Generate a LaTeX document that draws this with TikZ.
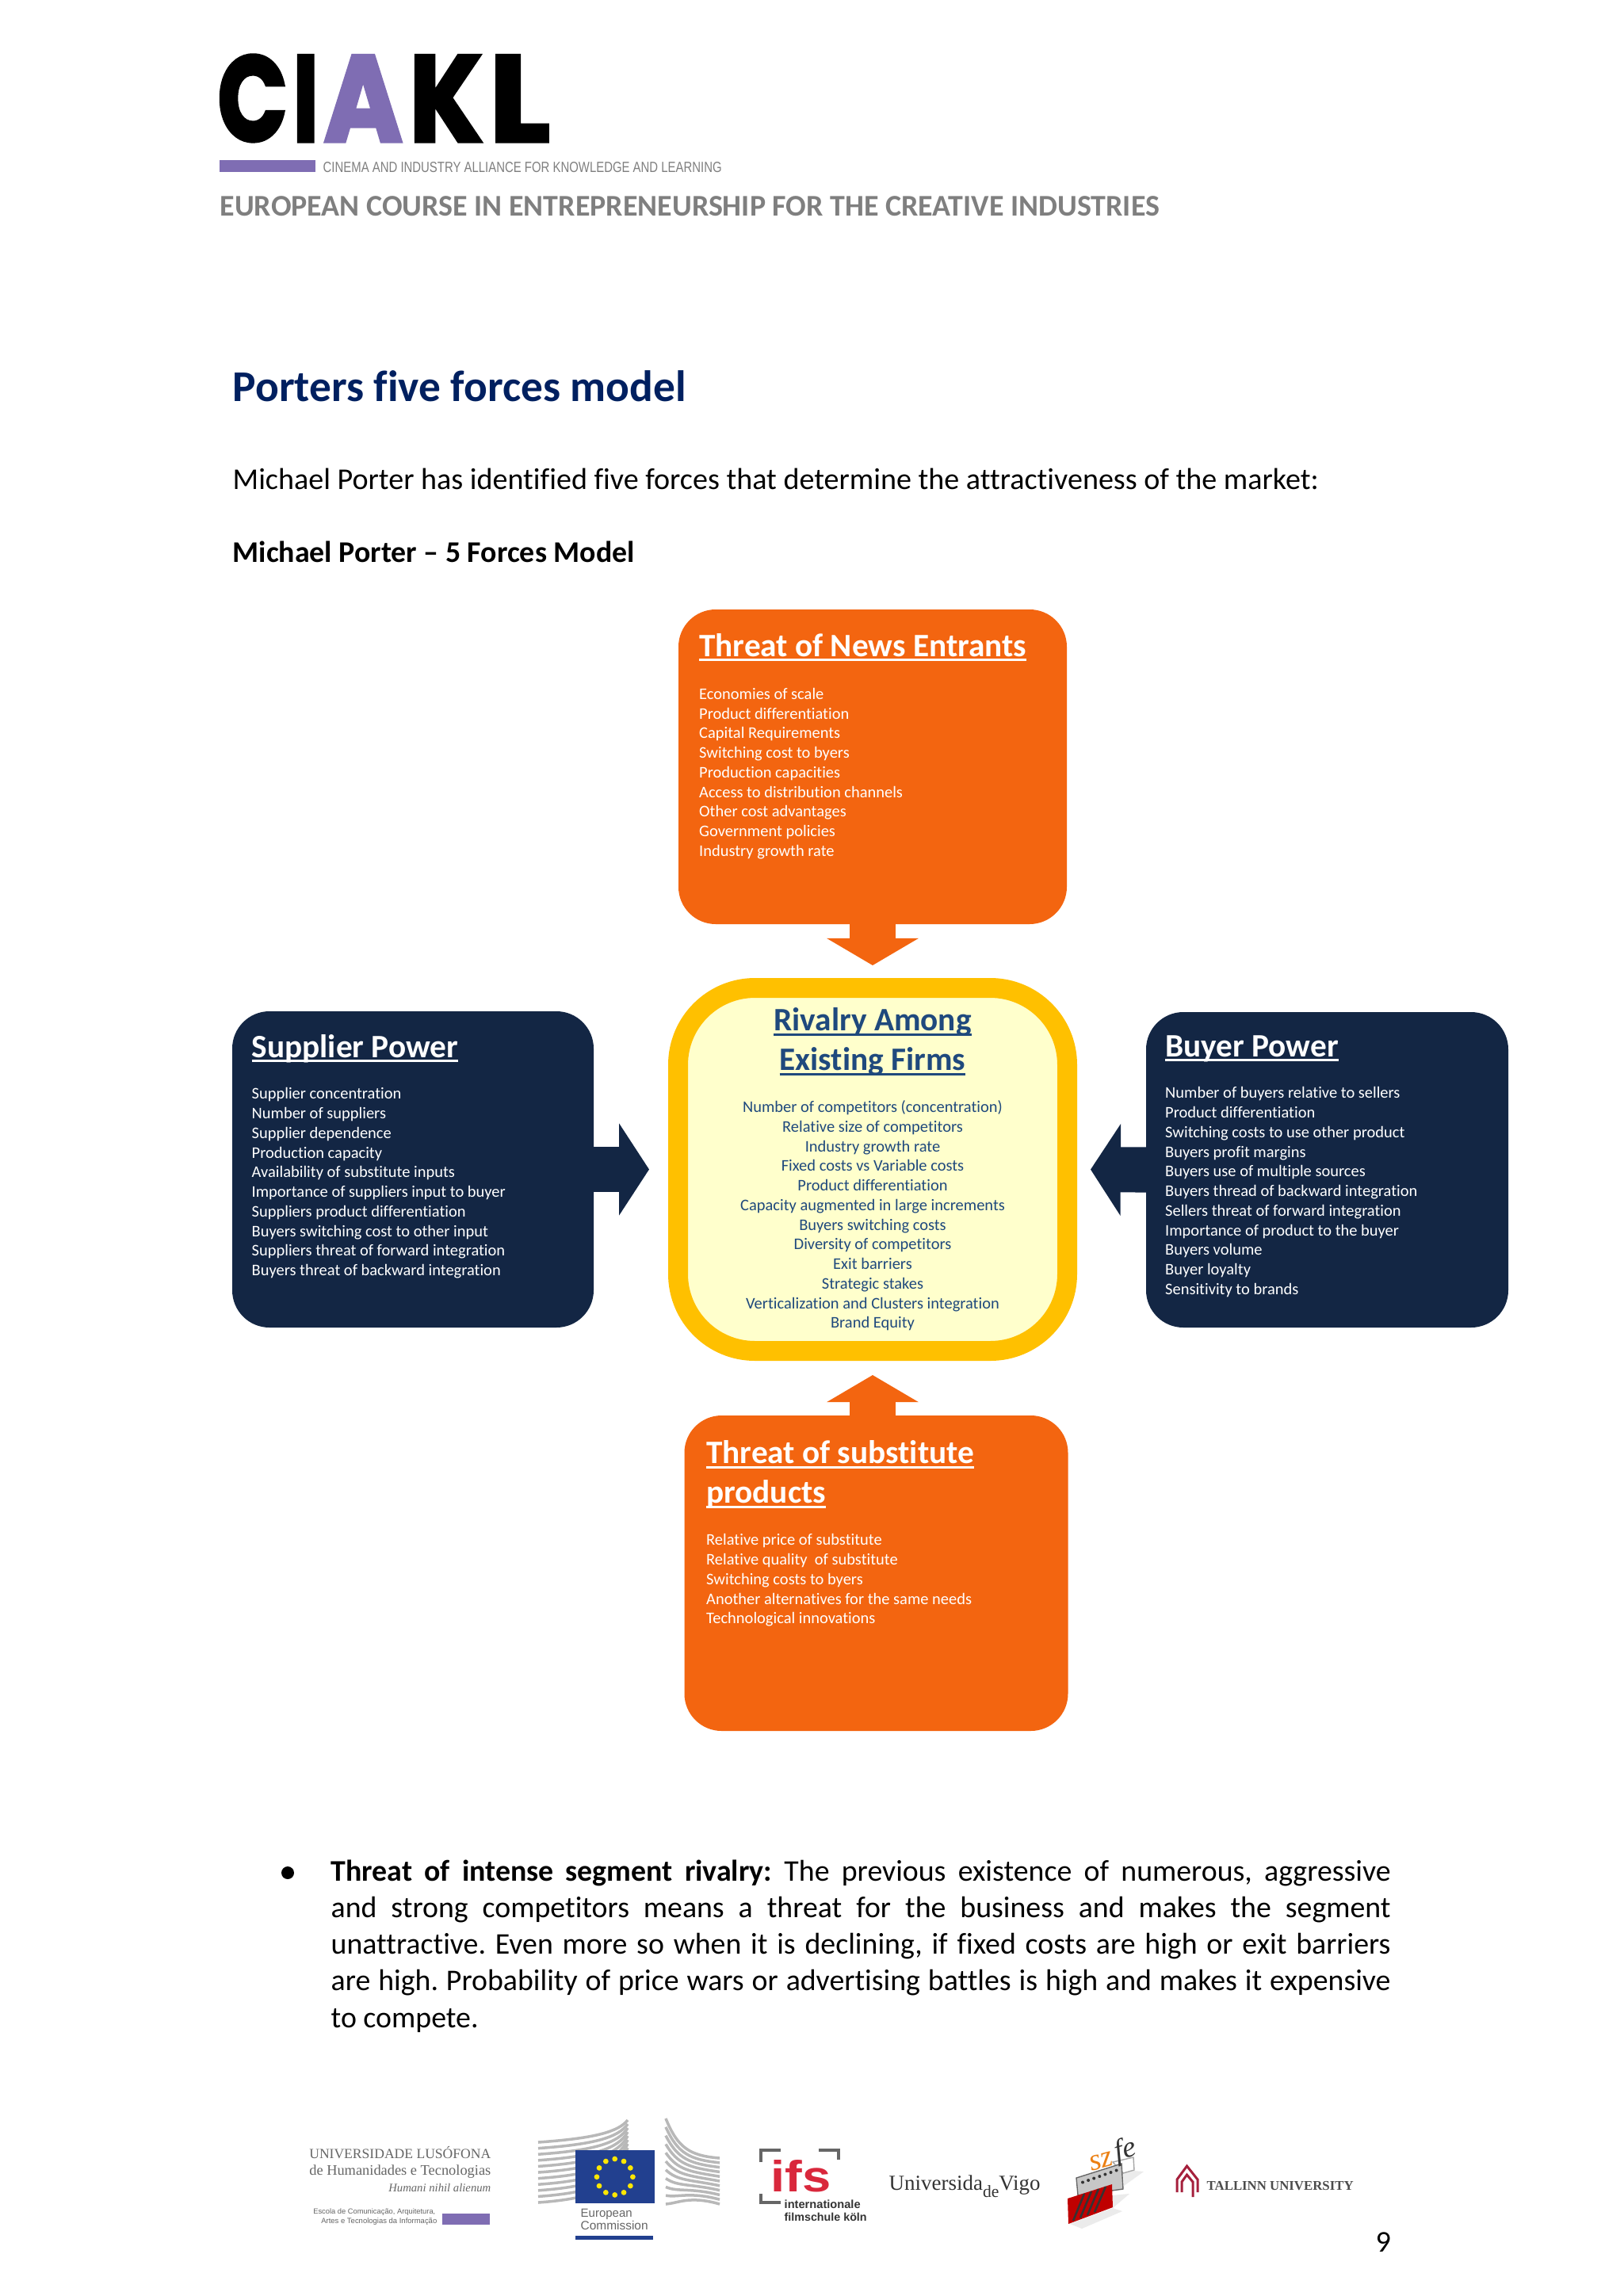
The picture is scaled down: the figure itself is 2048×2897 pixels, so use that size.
\documentclass[tikz,border=0pt]{standalone}
\usepackage{fontspec}
\usepackage{graphicx}
\usetikzlibrary{arrows.meta}
\setmainfont{Carlito}[Ligatures=NoCommon]
\newfontfamily\logofont{Poppins}[BoldFeatures={FakeBold=3}]
\newfontfamily\serifont{Liberation Serif}
\newfontfamily\plainsans{Liberation Sans}
\newlength\pxu
\setlength\pxu{0.29066pt}
\definecolor{forceorange}{HTML}{F36510}
\definecolor{forcenavy}{HTML}{132644}
\definecolor{ringyellow}{HTML}{FFC000}
\definecolor{ringfill}{HTML}{FFFFCC}
\definecolor{ringtext}{HTML}{1F497D}
\definecolor{logopurple}{HTML}{7F6DB3}
\definecolor{pagegrey}{HTML}{7F7F7F}
\definecolor{titleblue}{HTML}{002060}
\definecolor{eublue}{HTML}{22408F}
\definecolor{ifsred}{HTML}{D9283C}
\definecolor{tallinnred}{HTML}{A5203C}
\newcommand{\ultitle}[1]{\setbox0\hbox{#1}\rlap{\rule[-1.8pt]{\wd0}{0.85pt}}\box0}
\newcommand{\fitw}[2]{\resizebox{#1\pxu}{!}{#2}}
\tikzset{
	forcebox/.style={rectangle,rounded corners=47\pxu,inner sep=0pt},
	listtext/.style={anchor=north west,inner sep=0pt,align=left,font=\fontsize{5.95}{7.19}\selectfont},
	headtext/.style={inner sep=0pt,font=\fontsize{12}{14.55}\selectfont\bfseries},
	pagetext/.style={anchor=base west,inner sep=0pt,font=\fontsize{11.07}{13.43}\selectfont},
	logoletter/.style={anchor=south west,inner sep=0pt,font=\logofont\bfseries},
	smalllogo/.style={inner sep=0pt,text=black!60},
	orangeflow/.style={draw=forceorange,line width=16.6pt,shorten <=-2\pxu},
	navyflow/.style={draw=forcenavy,line width=16.6pt,shorten <=-2\pxu}
}
\begin{document}
\begin{tikzpicture}[x=\pxu,y=-\pxu]
	\useasboundingbox (0,0) rectangle (2048,2897);
	\fill[white] (0,0) rectangle (2048,2897);

	% header
	\node[logoletter] (logoC) at (274,179) {\resizebox{88\pxu}{108\pxu}{C}};
	\node[logoletter] (logoI) at (369,179) {\resizebox{32\pxu}{108\pxu}{I}};
	\node[logoletter,text=logopurple] (logoA) at (408,179) {\resizebox{99\pxu}{108\pxu}{A}};
	\node[logoletter] (logoK) at (516,179) {\resizebox{92\pxu}{108\pxu}{K}};
	\node[logoletter] (logoL) at (617,179) {\resizebox{76\pxu}{108\pxu}{L}};
	\fill[logopurple] (277,202) rectangle (398,217);
	\node[anchor=base west,inner sep=0pt,text=pagegrey] (tagline) at (407,217) {\resizebox{503\pxu}{13\pxu}{\plainsans CINEMA AND INDUSTRY ALLIANCE FOR KNOWLEDGE AND LEARNING}};
	\node[pagetext,text=pagegrey,font=\fontsize{11.03}{13}\selectfont\bfseries] (course) at (277,272) {EUROPEAN COURSE IN ENTREPRENEURSHIP FOR THE CREATIVE INDUSTRIES};

	\node[pagetext,text=titleblue,font=\fontsize{16.1}{20}\selectfont\bfseries] (pagetitle) at (293,506) {Porters five forces model};
	\node[pagetext] (intro) at (293,617) {Michael Porter has identified five forces that determine the attractiveness of the market:};
	\node[pagetext,font=\fontsize{11}{13.43}\selectfont\bfseries] (modelname) at (293,709) {Michael Porter -- 5 Forces Model};

	% the five boxes
	\node[forcebox,fill=forceorange,minimum width=490\pxu,minimum height=397\pxu] (entrants) at (1101,967.5) {};
	\node[forcebox,fill=forcenavy,minimum width=456\pxu,minimum height=399\pxu] (supplier) at (521,1475.5) {};
	\node[forcebox,fill=forcenavy,minimum width=457\pxu,minimum height=398\pxu] (buyer) at (1674.5,1476) {};
	\node[forcebox,fill=forceorange,minimum width=484\pxu,minimum height=398\pxu] (substitute) at (1105.5,1985) {};
	\node[forcebox,draw=ringyellow,fill=ringfill,line width=25\pxu,rounded corners=97\pxu,minimum width=491\pxu,minimum height=458\pxu] (rivalry) at (1101,1475.5) {};

	\draw[orangeflow,-{Triangle[width=33.2pt,length=9.9pt]},shorten >=16\pxu] (entrants.south) -- (rivalry.north);
	\draw[orangeflow,-{Triangle[width=33.2pt,length=9.9pt]},shorten >=18\pxu] (rivalry.south |- substitute.north) -- (rivalry.south);
	\draw[navyflow,-{Triangle[width=33.2pt,length=11pt]},shorten >=24\pxu] (supplier.east) -- (rivalry.west);
	\draw[navyflow,-{Triangle[width=33.2pt,length=11pt]},shorten >=17\pxu] (buyer.west) -- (rivalry.east);

	\begin{scope}[every node/.append style={text=white}]
		\node[headtext,anchor=base west] (entrantshead) at (881.5,828) {\ultitle{Threat of News Entrants}};
		\node[listtext] (entrantslist) at (881.5,867.5) {Economies of scale\\Product differentiation\\Capital Requirements\\Switching cost to byers\\Production capacities\\Access to distribution channels\\Other cost advantages\\Government policies\\Industry growth rate};
		\node[headtext,anchor=base west] (supplierhead) at (317,1334) {\ultitle{Supplier Power}};
		\node[listtext] (supplierlist) at (317,1372) {Supplier concentration\\Number of suppliers\\Supplier dependence\\Production capacity\\Availability of substitute inputs\\Importance of suppliers input to buyer\\Suppliers product differentiation\\Buyers switching cost to other input\\Suppliers threat of forward integration\\Buyers threat of backward integration};
		\node[headtext,anchor=base west] (buyerhead) at (1469.5,1333) {\ultitle{Buyer Power}};
		\node[listtext] (buyerlist) at (1469.5,1371) {Number of buyers relative to sellers\\Product differentiation\\Switching costs to use other product\\Buyers profit margins\\Buyers use of multiple sources\\Buyers thread of backward integration\\Sellers threat of forward integration\\Importance of product to the buyer\\Buyers volume\\Buyer loyalty\\Sensitivity to brands};
		\node[headtext,anchor=north west,align=left] (substitutehead) at (890.5,1817) {\ultitle{Threat of substitute}\\\ultitle{products}};
		\node[listtext] (substitutelist) at (890.5,1935) {Relative price of substitute\\Relative quality\ \ of substitute\\Switching costs to byers\\Another alternatives for the same needs\\Technological innovations};
	\end{scope}
	\begin{scope}[every node/.append style={text=ringtext}]
		\node[headtext,anchor=north,align=center] (rivalryhead) at (1101,1271) {\ultitle{Rivalry Among}\\\ultitle{Existing Firms}};
		\node[listtext,anchor=north,align=center] (rivalrylist) at (1101,1388) {Number of competitors (concentration)\\Relative size of competitors\\Industry growth rate\\Fixed costs vs Variable costs\\Product differentiation\\Capacity augmented in large increments\\Buyers switching costs\\Diversity of competitors\\Exit barriers\\Strategic stakes\\Verticalization and Clusters integration\\Brand Equity};
	\end{scope}

	% bullet paragraph
	\fill[black] (363,2363) circle (8\pxu);
	\node[anchor=north west,inner sep=0pt,text width=1337\pxu,align=justify,font=\fontsize{11}{13.43}\selectfont\frenchspacing] (rivalrytext) at (417,2346) {\textbf{Threat of intense segment rivalry:} The previous existence of numerous, aggressive\linebreak and strong competitors means a threat for the business and makes the segment\linebreak unattractive. Even more so when it is declining, if fixed costs are high or exit barriers\linebreak are high. Probability of price wars or advertising battles is high and makes it expensive\linebreak to compete.};

	% partner logos
	\begin{scope}[every node/.append style={smalllogo}]
		\node[anchor=base east] (lusofona1) at (620,2723) {\fitw{229}{\serifont UNIVERSIDADE LUSÓFONA}};
		\node[anchor=base east] (lusofona2) at (620,2744) {\fitw{229}{\serifont de Humanidades e Tecnologias}};
		\node[anchor=base east] (lusofona3) at (620,2765) {\fitw{129}{\serifont\itshape Humani nihil alienum}};
		\node[anchor=base east] (lusofona4) at (550,2793) {\fitw{154}{\plainsans Escola de Comunicação, Arquitetura,}};
		\node[anchor=base east] (lusofona5) at (552,2805) {\fitw{146}{\plainsans Artes e Tecnologias da Informação}};
		\node[anchor=base west] (ecname1) at (732,2797) {\fitw{65}{\plainsans European}};
		\node[anchor=base west] (ecname2) at (732,2813) {\fitw{85}{\plainsans Commission}};
		\node[anchor=base west,text=black!80] (ifsname1) at (989,2786) {\fitw{96}{\plainsans\bfseries internationale}};
		\node[anchor=base west,text=black!80] (ifsname2) at (989,2802) {\fitw{104}{\plainsans\bfseries filmschule köln}};
		\node[anchor=base west,text=ifsred] (ifsname) at (972,2765) {\resizebox{76\pxu}{40\pxu}{\plainsans\bfseries ifs}};
		\node[anchor=base west,text=black!80] (vigoname) at (1121,2763) {\fitw{191}{\serifont Universida\raisebox{-0.35em}{\footnotesize de}Vigo}};
		\node[anchor=base west,text=black!70] (tallinnname) at (1522,2763) {\fitw{185}{\serifont\bfseries TALLINN UNIVERSITY}};
	\end{scope}
	\fill[logopurple] (558,2793) rectangle (618,2807);

	\foreach \i in {0,...,10}
		\draw[black!28,line width=3.5\pxu] (679,2703+\i*7.6) .. controls (750,2698+\i*7.6) and (780,2690+\i*7) .. (792,2675+\i*5);
	\foreach \i in {0,...,10}
		\draw[black!28,line width=3.5\pxu] (840,2673+\i*10.8) .. controls (855,2710+\i*7) and (870,2720+\i*5) .. (908,2723+\i*5.8);
	\fill[eublue] (726,2713) rectangle (826,2780);
	\foreach \a in {0,30,...,330}
		\fill[yellow!90!orange] (775.7,2746.7) ++(\a:22.7) circle (3.4\pxu);
	\fill[eublue] (726,2821) rectangle (824,2826);

	\draw[black!60,line width=4\pxu] (960,2728) -- (960,2713) -- (985,2713);
	\draw[black!60,line width=4\pxu] (1033,2713) -- (1058,2713) -- (1058,2725);
	\draw[black!60,line width=4\pxu] (960,2768) -- (960,2779) -- (985,2779);

	% film strip with its soft shadows
	\fill[black!8] (1417,2738) -- (1443,2740) -- (1418,2758) -- cycle;
	\fill[black!8] (1403,2770) -- (1425,2768) -- (1404,2786) -- cycle;
	\fill[black!8] (1350,2806) -- (1404,2786) -- (1416,2790) -- (1365,2812) -- cycle;
	\fill[white,draw=black!35] (1404,2728) -- (1430,2722) -- (1431,2738) -- (1417,2742) -- cycle;
	\fill[black!22,draw=black!60] (1358,2748) -- (1415,2730) -- (1417,2762) -- (1360,2770) -- cycle;
	\foreach \i in {0,...,6}
		\fill[black!80] (1366+\i*7.1,2753.5-\i*2.5) circle (2\pxu);
	\fill[red!75!black] (1347,2774) -- (1403,2756) -- (1404,2785) -- (1348,2806) -- cycle;
	\foreach \i in {0,...,3}
		\draw[black!80,line width=2.5\pxu] (1354+\i*9,2802-\i*3.6) -- (1368+\i*9,2768-\i*3);
	\node[smalllogo,rotate=15,text=orange!70!brown] (szname) at (1389.5,2727) {\fitw{30}{\serifont\itshape sz}};
	\node[smalllogo,rotate=15,text=black!80] (fename) at (1420,2714) {\fitw{27}{\serifont\itshape fe}};

	\draw[tallinnred,line width=3\pxu] (1485,2766) -- (1485,2750) -- (1497.5,2733) -- (1511,2750) -- (1511,2766);
	\draw[tallinnred,line width=3\pxu] (1491,2766) -- (1491,2753) -- (1497.5,2744) -- (1505,2753) -- (1505,2772);

	\node[pagetext] (pagenumber) at (1735,2841) {9};
\end{tikzpicture}
\end{document}
